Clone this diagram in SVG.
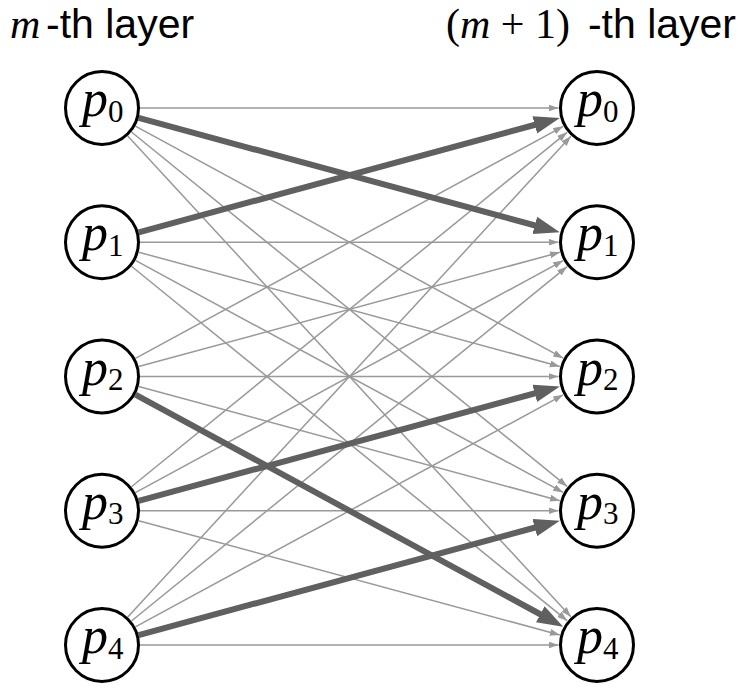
<svg xmlns="http://www.w3.org/2000/svg" width="747" height="694" viewBox="0 0 747 694">
<style>
.n{fill:#fff;stroke:#000;stroke-width:3}
.p{font-family:"Liberation Serif",serif;font-style:italic;font-size:52px;fill:#000}
.s{font-family:"Liberation Serif",serif;font-style:normal;font-size:31px}
.h{font-family:"Liberation Sans",Arial,sans-serif;font-size:41px;fill:#000}
.hm{font-family:"Liberation Serif",serif;font-size:42px;fill:#000}
.t{stroke:#999;stroke-width:1.5;fill:none;marker-end:url(#at)}
.k{stroke:#606060;stroke-width:6;fill:none;marker-end:url(#ak)}
</style>
<defs>
<marker id="at" markerUnits="userSpaceOnUse" markerWidth="12" markerHeight="8" refX="10" refY="3.5" orient="auto"><path d="M0,0 L10,3.5 L0,7 z" fill="#999"/></marker>
<marker id="ak" markerUnits="userSpaceOnUse" markerWidth="28" markerHeight="20" refX="11" refY="9" orient="auto"><path d="M0,0 L26,9 L0,18 z" fill="#606060"/></marker>
</defs>
<g id="headers">
<text x="10" y="38" class="hm"><tspan font-style="italic">m</tspan></text>
<text x="46" y="38" class="h">-th layer</text>
<text x="446" y="38" class="hm">(<tspan font-style="italic">m</tspan> + 1)</text>
<text x="736" y="38" class="h" text-anchor="end">-th layer</text>
</g>
<g id="connectors">
<line class="t" x1="140" y1="108" x2="558.5" y2="108"/>
<line class="t" x1="135.4" y1="126.12" x2="563.16" y2="358.14"/>
<line class="t" x1="131.48" y1="131.98" x2="567.14" y2="486.45"/>
<line class="t" x1="127.76" y1="135.94" x2="570.9" y2="616.69"/>
<line class="t" x1="140" y1="242.25" x2="558.5" y2="242.25"/>
<line class="t" x1="138.67" y1="252.2" x2="559.84" y2="366.42"/>
<line class="t" x1="135.4" y1="260.37" x2="563.16" y2="492.39"/>
<line class="t" x1="131.48" y1="266.23" x2="567.14" y2="620.7"/>
<line class="t" x1="135.4" y1="358.38" x2="563.16" y2="126.36"/>
<line class="t" x1="138.67" y1="366.55" x2="559.84" y2="252.33"/>
<line class="t" x1="140" y1="376.5" x2="558.5" y2="376.5"/>
<line class="t" x1="138.67" y1="386.45" x2="559.84" y2="500.67"/>
<line class="t" x1="131.48" y1="486.77" x2="567.14" y2="132.3"/>
<line class="t" x1="135.4" y1="492.63" x2="563.16" y2="260.61"/>
<line class="t" x1="140" y1="510.75" x2="558.5" y2="510.75"/>
<line class="t" x1="138.67" y1="520.7" x2="559.84" y2="634.92"/>
<line class="t" x1="127.76" y1="617.06" x2="570.9" y2="136.31"/>
<line class="t" x1="131.48" y1="621.02" x2="567.14" y2="266.55"/>
<line class="t" x1="135.4" y1="626.88" x2="563.16" y2="394.86"/>
<line class="t" x1="140" y1="645" x2="558.5" y2="645"/>
<line class="k" x1="138.67" y1="117.95" x2="545.36" y2="228.24"/>
<line class="k" x1="138.67" y1="232.3" x2="545.36" y2="122.01"/>
<line class="k" x1="135.4" y1="394.62" x2="549.97" y2="619.49"/>
<line class="k" x1="138.67" y1="500.8" x2="545.36" y2="390.51"/>
<line class="k" x1="138.67" y1="635.05" x2="545.36" y2="524.76"/>
</g>
<g id="L0"><circle class="n" cx="102" cy="108" r="36.5"/><text class="p" x="82" y="116">p<tspan class="s" dy="5.5">0</tspan></text></g>
<g id="L1"><circle class="n" cx="102" cy="242.25" r="36.5"/><text class="p" x="82" y="250.25">p<tspan class="s" dy="5.5">1</tspan></text></g>
<g id="L2"><circle class="n" cx="102" cy="376.5" r="36.5"/><text class="p" x="82" y="384.5">p<tspan class="s" dy="5.5">2</tspan></text></g>
<g id="L3"><circle class="n" cx="102" cy="510.75" r="36.5"/><text class="p" x="82" y="518.75">p<tspan class="s" dy="5.5">3</tspan></text></g>
<g id="L4"><circle class="n" cx="102" cy="645" r="36.5"/><text class="p" x="82" y="653">p<tspan class="s" dy="5.5">4</tspan></text></g>
<g id="R0"><circle class="n" cx="597" cy="108" r="36.5"/><text class="p" x="577" y="116">p<tspan class="s" dy="5.5">0</tspan></text></g>
<g id="R1"><circle class="n" cx="597" cy="242.25" r="36.5"/><text class="p" x="577" y="250.25">p<tspan class="s" dy="5.5">1</tspan></text></g>
<g id="R2"><circle class="n" cx="597" cy="376.5" r="36.5"/><text class="p" x="577" y="384.5">p<tspan class="s" dy="5.5">2</tspan></text></g>
<g id="R3"><circle class="n" cx="597" cy="510.75" r="36.5"/><text class="p" x="577" y="518.75">p<tspan class="s" dy="5.5">3</tspan></text></g>
<g id="R4"><circle class="n" cx="597" cy="645" r="36.5"/><text class="p" x="577" y="653">p<tspan class="s" dy="5.5">4</tspan></text></g>
</svg>
